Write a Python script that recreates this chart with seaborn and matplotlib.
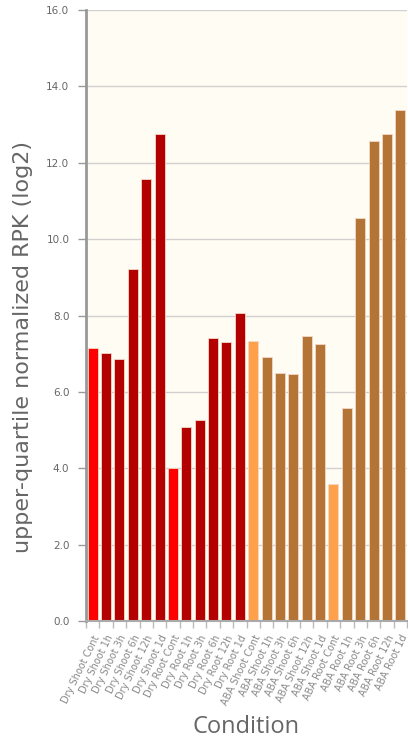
import matplotlib
matplotlib.use("Agg")
import matplotlib.pyplot as plt
import matplotlib.transforms as mtransforms
import seaborn as sns
import pandas as pd

conditions = [
    "Dry Shoot Cont", "Dry Shoot 1h", "Dry Shoot 3h", "Dry Shoot 6h", "Dry Shoot 12h", "Dry Shoot 1d",
    "Dry Root Cont", "Dry Root 1h", "Dry Root 3h", "Dry Root 6h", "Dry Root 12h", "Dry Root 1d",
    "ABA Shoot Cont", "ABA Shoot 1h", "ABA Shoot 3h", "ABA Shoot 6h", "ABA Shoot 12h", "ABA Shoot 1d",
    "ABA Root Cont", "ABA Root 1h", "ABA Root 3h", "ABA Root 6h", "ABA Root 12h", "ABA Root 1d",
]
values = [
    7.14, 7.01, 6.86, 9.21, 11.57, 12.76,
    4.00, 5.09, 5.26, 7.40, 7.30, 8.07,
    7.34, 6.91, 6.50, 6.48, 7.47, 7.26,
    3.58, 5.59, 10.56, 12.56, 12.76, 13.37,
]
groups = [
    "dry_ctrl", "dry", "dry", "dry", "dry", "dry",
    "dry_ctrl", "dry", "dry", "dry", "dry", "dry",
    "aba_ctrl", "aba", "aba", "aba", "aba", "aba",
    "aba_ctrl", "aba", "aba", "aba", "aba", "aba",
]
group_colors = {"dry_ctrl": "#FF0000", "dry": "#B30000", "aba_ctrl": "#FFA14A", "aba": "#B37436"}
y_ticks = [0, 2, 4, 6, 8, 10, 12, 14, 16]

df = pd.DataFrame({"Condition": conditions, "value": values, "group": groups})

sns.set_theme(style="white")
plt.rcParams["font.family"] = ["DejaVu Sans"]

fig = plt.figure(figsize=(4.08, 7.42), dpi=100)
ax = fig.add_axes([86 / 408, 1 - 621 / 742, 321 / 408, 611 / 742])
ax.set_facecolor("#FFFCF3")

sns.barplot(data=df, x="Condition", y="value", hue="group", palette=group_colors,
            dodge=False, width=0.75, legend=False, ax=ax, saturation=1,
            edgecolor="#F2D9C8", linewidth=0.6)

ax.set_ylim(0, 16)
ax.set_xlim(-0.5, len(conditions) - 0.5)
ax.set_yticks(y_ticks)
ax.set_yticklabels([f"{t:.1f}" for t in y_ticks], color="#666666", fontsize=7.5)
ax.yaxis.grid(True, color="#D0D0D0", linewidth=1)
ax.set_axisbelow(True)

# offset y tick labels slightly below the ticks
off = mtransforms.ScaledTranslation(0, -12 / 100, fig.dpi_scale_trans)
for lab in ax.get_yticklabels():
    lab.set_transform(lab.get_transform() + off)

# major ticks at category boundaries (marks only), labels on minor ticks at centers
ax.set_xticks([i + 0.5 for i in range(-1, len(conditions))])
ax.set_xticklabels([])
ax.tick_params(axis="x", which="major", bottom=True, length=5, width=1, color="#BBBBBB", direction="out")
ax.set_xticks(range(len(conditions)), minor=True)
ax.set_xticklabels(conditions, minor=True, rotation=64, ha="right", rotation_mode="anchor",
                   color="#8A8A8A", fontsize=7)
ax.tick_params(axis="x", which="minor", bottom=True, length=0, pad=9)
ax.tick_params(axis="y", length=6, width=1, color="#999999", direction="out", pad=6, left=True)

for s in ["top", "right"]:
    ax.spines[s].set_visible(False)
ax.spines["left"].set_color("#999999")
ax.spines["left"].set_linewidth(2)
ax.spines["bottom"].set_color("#AAAAAA")
ax.spines["bottom"].set_linewidth(1.5)

ax.set_ylabel("upper-quartile normalized RPK (log2)", fontsize=16, color="#666666")
ax.yaxis.label.set_va("center")
ax.yaxis.set_label_coords(-0.196, 0.448)
ax.set_xlabel("Condition", fontsize=17, color="#666666", family="Open Sans")
ax.xaxis.label.set_va("center")
ax.xaxis.set_label_coords(0.5, -0.1735)

fig.savefig("out.png", dpi=100)
